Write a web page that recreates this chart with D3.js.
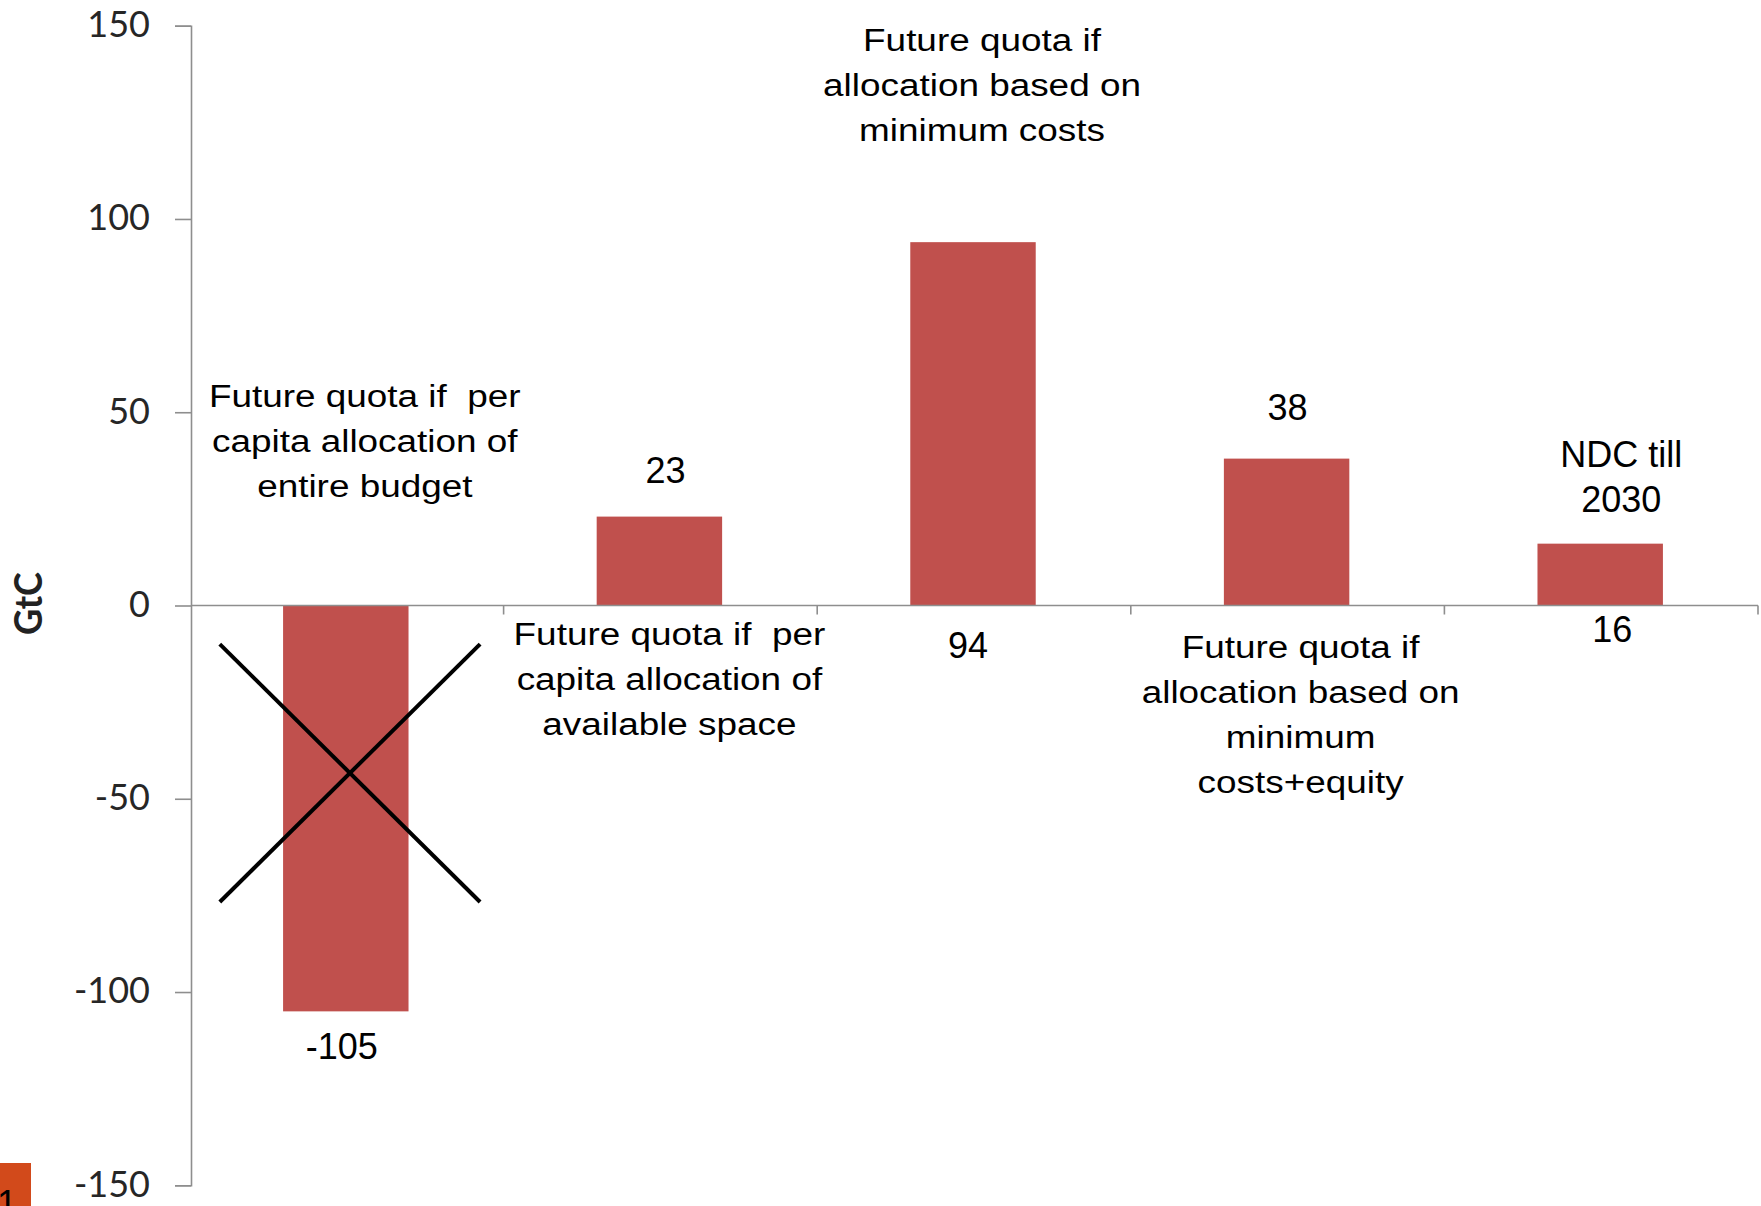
<!DOCTYPE html>
<html>
<head>
<meta charset="utf-8">
<script src="https://cdn.jsdelivr.net/npm/d3@7"></script>
<style>
  html, body { margin: 0; padding: 0; background: #ffffff; }
  svg { display: block; }
  text { white-space: pre; }
</style>
</head>
<body>
<svg id="chart" width="1761" height="1206"></svg>
<script>
// ---------- data ----------
const categories = ["A", "B", "C", "D", "E"];
const categoryLines = [
  ["Future quota if  per", "capita allocation of", "entire budget"],
  ["Future quota if  per", "capita allocation of", "available space"],
  ["Future quota if", "allocation based on", "minimum costs"],
  ["Future quota if", "allocation based on", "minimum", "costs+equity"],
  ["NDC till", "2030"]
];
const values = [-105, 23, 94, 38, 16];
const valueLabels = ["-105", "23", "94", "38", "16"];
const yTicks = [-150, -100, -50, 0, 50, 100, 150];
const yTitle = "GtC";
const crossedIndex = 0;

// ---------- layout (label anchors, in data units / px offsets) ----------
const nameLevel = [51.4, -10.2, 143.5, -13.6, 35.8];
const nameDx = [18, 9, 8, 13, 20];
const nameWide = [true, true, true, true, false];
const valueLevel = [-117.3, 31.7, -13.6, 47.9, -9.4];
const valueDx = [-5, 5, -6, 0, 11];
const lineGap = 45;

const svg = d3.select("#chart");
const W = 1761, H = 1206;

const x = d3.scaleBand().domain(categories).range([190, 1758]).padding(0);
const y = d3.scaleLinear().domain([-150, 150]).range([1185.3, 25.7]);
const barFrac = 0.4;

// ---------- y axis ----------
const yAxis = d3.axisLeft(y).tickValues(yTicks).tickSize(16).tickPadding(25)
  .tickFormat(d => String(d));
const gy = svg.append("g").attr("transform", "translate(191,0)").call(yAxis);
gy.select(".domain").attr("stroke", "#8e8e8e").attr("stroke-width", 1.6);
gy.selectAll(".tick line").attr("stroke", "#8e8e8e").attr("stroke-width", 1.6);
gy.selectAll(".tick text")
  .attr("font-family", "Lato, 'Open Sans', sans-serif")
  .attr("font-size", 36)
  .attr("fill", "#262626")
  .attr("dy", "0.3em");

// y title
svg.append("text")
  .attr("transform", `translate(42,${y(0) - 2}) rotate(-90)`)
  .attr("text-anchor", "middle")
  .attr("font-family", "Lato, 'Open Sans', sans-serif")
  .attr("font-weight", "bold")
  .attr("font-size", 38)
  .attr("textLength", 63)
  .attr("lengthAdjust", "spacingAndGlyphs")
  .attr("fill", "#222")
  .text(yTitle);

// ---------- bars ----------
const bw = x.bandwidth();
svg.append("g").selectAll("rect").data(values).join("rect")
  .attr("x", (d, i) => x(categories[i]) + bw * (1 - barFrac) / 2 - 1)
  .attr("width", bw * barFrac)
  .attr("y", d => y(Math.max(0, d)))
  .attr("height", d => Math.abs(y(d) - y(0)))
  .attr("fill", "#C0504D");

// ---------- x axis (zero line) ----------
const x0 = x.range()[0] + 1, x1 = x.range()[1];
svg.append("line")
  .attr("x1", x0).attr("x2", x1)
  .attr("y1", y(0)).attr("y2", y(0))
  .attr("stroke", "#8e8e8e").attr("stroke-width", 1.6);
const bounds = categories.map(c => x(c) + x.step()).filter(v => v > x0 + 1);
svg.append("g").selectAll("line").data(bounds).join("line")
  .attr("x1", d => d).attr("x2", d => d)
  .attr("y1", y(0)).attr("y2", y(0) + 9)
  .attr("stroke", "#8e8e8e").attr("stroke-width", 1.6);

// ---------- category name labels ----------
const fontMain = "'Liberation Sans', Arial, sans-serif";
categories.forEach((c, i) => {
  const cx = x(c) + bw / 2 + nameDx[i];
  const by = y(nameLevel[i]);
  categoryLines[i].forEach((ln, k) => {
    const t = svg.append("text")
      .attr("text-anchor", "middle")
      .attr("font-family", fontMain)
      .attr("fill", "#000")
      .text(ln);
    if (nameWide[i]) {
      t.attr("font-size", 31)
       .attr("transform", `translate(${cx},${by + k * lineGap}) scale(1.19,1)`);
    } else {
      t.attr("font-size", 36)
       .attr("transform", `translate(${cx},${by + k * lineGap})`);
    }
  });
});

// ---------- value labels ----------
svg.append("g").selectAll("text").data(valueLabels).join("text")
  .attr("x", (d, i) => x(categories[i]) + bw / 2 + valueDx[i])
  .attr("y", (d, i) => y(valueLevel[i]))
  .attr("text-anchor", "middle")
  .attr("font-family", fontMain)
  .attr("font-size", 36)
  .attr("fill", "#000")
  .text(d => d);

// ---------- cross over the first bar ----------
const cb = x(categories[crossedIndex]);
const cxA = cb + bw * 0.095, cxB = cb + bw * 0.925;
const cyA = y(-10), cyB = y(-76.7);
svg.append("line").attr("x1", cxA).attr("y1", cyA).attr("x2", cxB).attr("y2", cyB)
  .attr("stroke", "#000").attr("stroke-width", 4);
svg.append("line").attr("x1", cxB).attr("y1", cyA).attr("x2", cxA).attr("y2", cyB)
  .attr("stroke", "#000").attr("stroke-width", 4);

// ---------- slide number box ----------
svg.append("rect").attr("x", 0).attr("y", 1163).attr("width", 31).attr("height", 43)
  .attr("fill", "#D24A1B");
svg.append("text").attr("x", -3).attr("y", 1216)
  .attr("font-family", fontMain).attr("font-size", 36).attr("fill", "#000")
  .text("1");
</script>
</body>
</html>
